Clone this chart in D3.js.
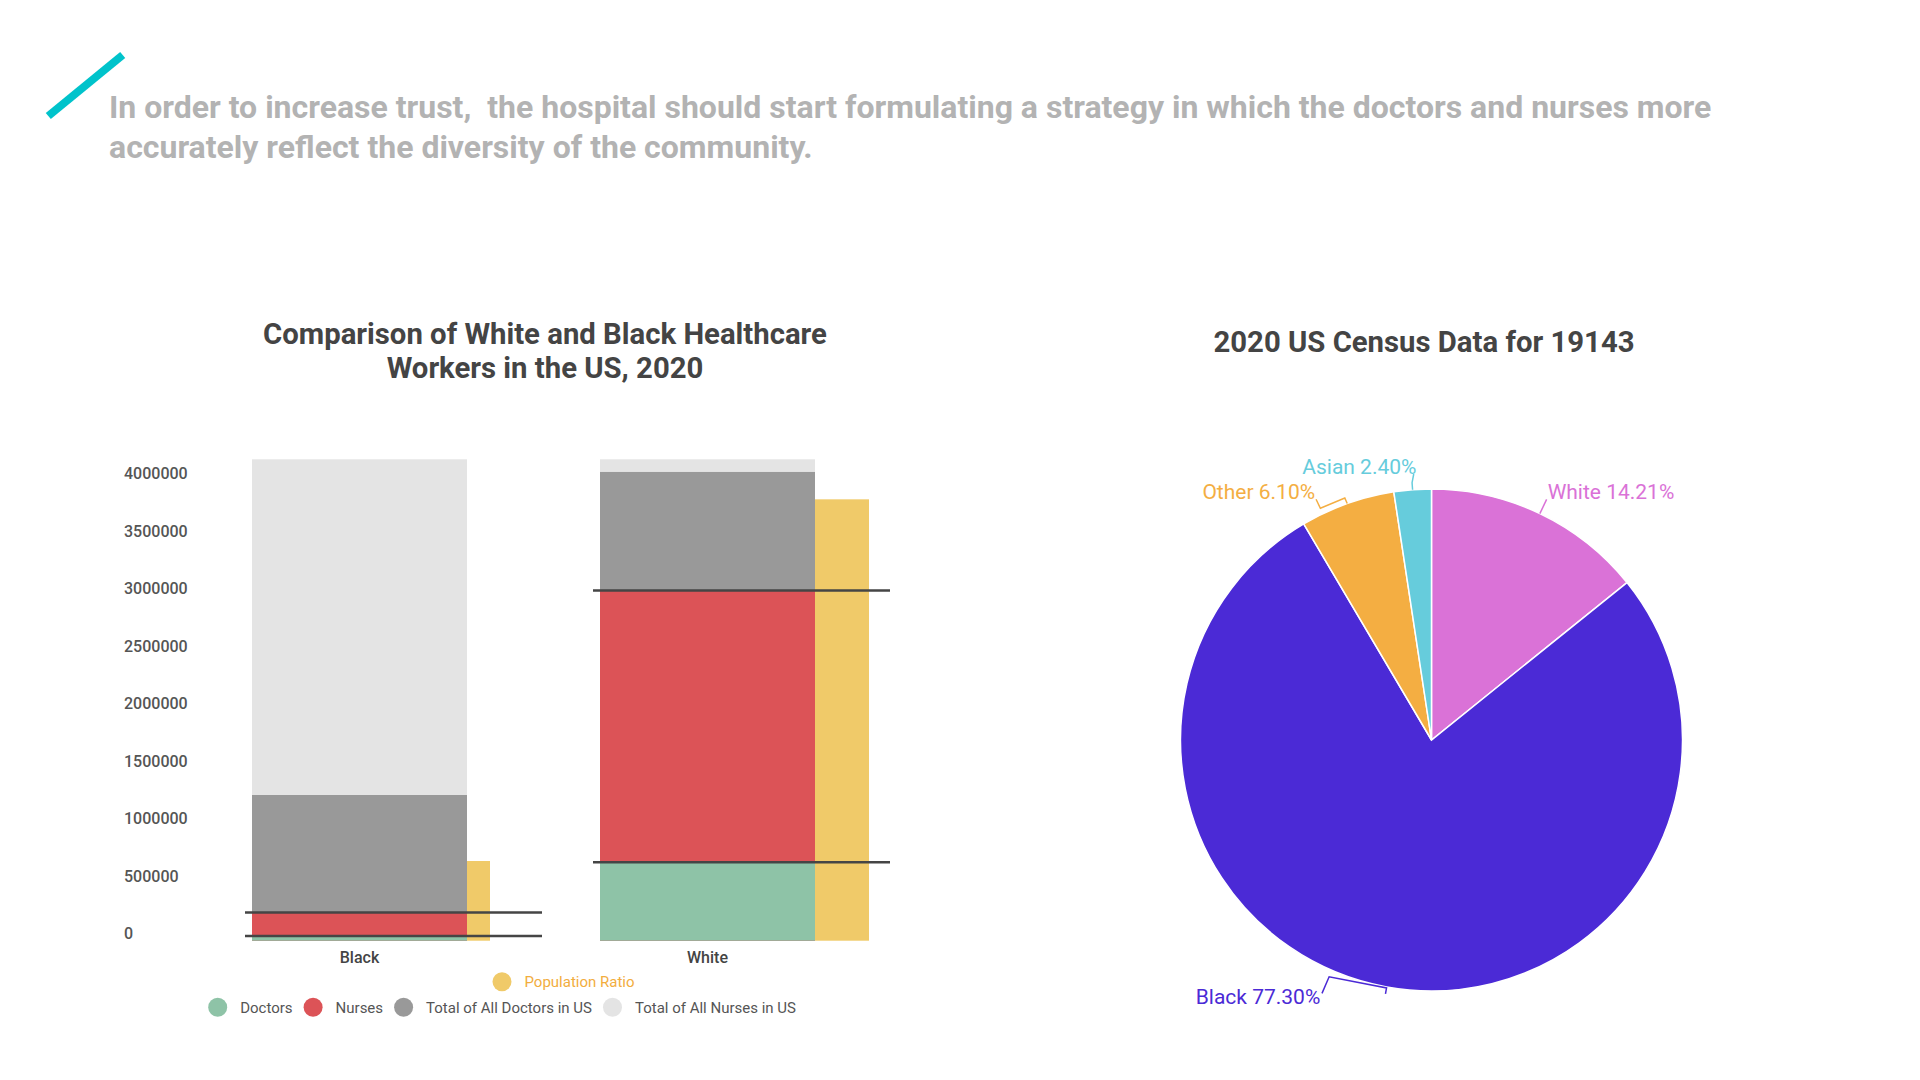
<!DOCTYPE html>
<html><head><meta charset="utf-8">
<script src="https://cdn.jsdelivr.net/npm/d3@7"></script>
<style>
body{margin:0;background:#fff;}
svg{display:block;font-family:Roboto, "Noto Sans", sans-serif;}
</style>
</head><body>
<svg id="c" width="1920" height="1080"></svg>
<script>
// ---------- DATA ----------
const headerLines = [
  "In order to increase trust,  the hospital should start formulating a strategy in which the doctors and nurses more",
  "accurately reflect the diversity of the community."
];
const barTitleLines = ["Comparison of White and Black Healthcare", "Workers in the US, 2020"];
const pieTitle = "2020 US Census Data for 19143";

const categories = ["Black", "White"];
const doctors = [41000, 682000];
const nurses = [245000, 3045000];
const totalDoctors = [1267000, 4076000];
const totalNurses = [4186000, 4186000];
const populationRatio = [693000, 3838000];
const yTickValues = [0, 500000, 1000000, 1500000, 2000000, 2500000, 3000000, 3500000, 4000000];

const pieCategories = ["White", "Black", "Other", "Asian"];
const piePercents = [14.21, 77.30, 6.10, 2.40];

// ---------- STYLE / LAYOUT ----------
const colors = {
  doctors: "#8ec3a7", nurses: "#dc5357", totalDoctors: "#999999",
  totalNurses: "#e4e4e4", population: "#f0ca69", popText: "#f2ad3e"
};
const pieColors = {White: "#da72d7", Black: "#4b2ad6", Other: "#f4ae42", Asian: "#66ccdc"};
const popBarWidth = {Black: 23, White: 54};

const svg = d3.select("#c");

// header
svg.append("line").attr("x1", 48.3).attr("y1", 116).attr("x2", 122.7).attr("y2", 55)
  .attr("stroke", "#00c3cb").attr("stroke-width", 8);
svg.append("g").selectAll("text").data(headerLines).join("text")
  .attr("x", 109).attr("y", (d, i) => 118.3 + i * 40)
  .style("white-space", "pre")
  .attr("font-size", 32).attr("font-weight", 700).attr("fill", "#b3b3b3")
  .text(d => d);

// ---------- BAR CHART ----------
const y = d3.scaleLinear().domain([0, 4000000]).range([940.7, 480.7]);
const x = d3.scaleBand().domain(categories).range([252, 815]).paddingInner(133 / 348).paddingOuter(0);

svg.append("g").selectAll("text").data(barTitleLines).join("text")
  .attr("x", 545).attr("y", (d, i) => 344 + i * 33.5)
  .attr("text-anchor", "middle").attr("font-size", 29.3).attr("font-weight", 700).attr("fill", "#444")
  .text(d => d);

// y axis labels (no line)
const yAxis = d3.axisLeft(y).tickValues(yTickValues).tickFormat(d3.format("d")).tickSize(0);
const yg = svg.append("g").attr("transform", "translate(124,0)").call(yAxis);
yg.select(".domain").remove();
yg.selectAll("text").attr("text-anchor", "start").attr("x", 0).attr("dy", -2)
  .attr("font-size", 16).attr("font-family", "Roboto").attr("font-weight", 500).attr("fill", "#555")
  .attr("dominant-baseline", "auto");

const series = [
  {key: "totalNurses", values: totalNurses},
  {key: "totalDoctors", values: totalDoctors},
  {key: "nurses", values: nurses},
  {key: "doctors", values: doctors}
];
const barsG = svg.append("g");
series.forEach(s => {
  barsG.append("g").selectAll("rect").data(categories.map((c, i) => ({c, v: s.values[i]}))).join("rect")
    .attr("x", d => x(d.c)).attr("width", x.bandwidth())
    .attr("y", d => y(d.v)).attr("height", d => y(0) - y(d.v))
    .attr("fill", colors[s.key]);
});
// population ratio bars
barsG.append("g").selectAll("rect").data(categories.map((c, i) => ({c, v: populationRatio[i]}))).join("rect")
  .attr("x", d => x(d.c) + x.bandwidth()).attr("width", d => popBarWidth[d.c])
  .attr("y", d => y(d.v)).attr("height", d => y(0) - y(d.v))
  .attr("fill", colors.population);

// marker lines at doctors and nurses values
const lineData = [];
categories.forEach((c, i) => { lineData.push({c, v: doctors[i]}); lineData.push({c, v: nurses[i]}); });
svg.append("g").selectAll("line").data(lineData).join("line")
  .attr("x1", d => x(d.c) - 7).attr("x2", d => x(d.c) + 290)
  .attr("y1", d => y(d.v)).attr("y2", d => y(d.v))
  .attr("stroke", "#454545").attr("stroke-width", 2.5);

// category labels
svg.append("g").selectAll("text").data(categories).join("text")
  .attr("x", d => x(d) + x.bandwidth() / 2).attr("y", 962.7)
  .attr("text-anchor", "middle").attr("font-size", 16).attr("font-weight", 500).attr("fill", "#444")
  .text(d => d);

// legend
function legendRow(items, startX, cy) {
  let cx = startX;
  const g = svg.append("g");
  items.forEach(it => {
    g.append("circle").attr("cx", cx).attr("cy", cy).attr("r", 9.5).attr("fill", it.color);
    const t = g.append("text").attr("x", cx + 22.5).attr("y", cy + 5.2)
      .attr("font-size", 15).attr("fill", it.textColor || "#555").text(it.label);
    cx = cx + 22.5 + t.node().getComputedTextLength() + 20.5;
  });
}
legendRow([{label: "Population Ratio", color: colors.population, textColor: colors.popText}], 502, 981.7);
legendRow([
  {label: "Doctors", color: colors.doctors},
  {label: "Nurses", color: colors.nurses},
  {label: "Total of All Doctors in US", color: colors.totalDoctors},
  {label: "Total of All Nurses in US", color: colors.totalNurses}
], 217.7, 1007.3);

// ---------- PIE ----------
const cx = 1431.5, cy = 740, R = 251;
svg.append("text").attr("x", 1424).attr("y", 352).attr("text-anchor", "middle")
  .attr("font-size", 29.3).attr("font-weight", 700).attr("fill", "#444").text(pieTitle);

const pieData = d3.pie().sort(null).value(d => d.v)(pieCategories.map((c, i) => ({c, v: piePercents[i]})));
const arc = d3.arc().innerRadius(0).outerRadius(R);
const pg = svg.append("g").attr("transform", `translate(${cx},${cy})`);
pg.selectAll("path").data(pieData).join("path")
  .attr("d", arc).attr("fill", d => pieColors[d.data.c])
  .attr("stroke", "#fff").attr("stroke-width", 1.5);

// label leaders: [angle offset deg from slice middle, radius offset]
const leaderLayout = {
  White: {pts: [[0, 0], [0, 15.7]], dx: 1, dy: -0.7, anchor: "start"},
  Asian: {pts: [[0, 0], [0, 7], [0.5, 15.6]], dx: 2.7, dy: 0, anchor: "end"},
  Other: {pts: [[0, 0], [-0.1, 6], [-6, 6], [-6, 16]], dx: -1, dy: 0, anchor: "end"},
  Black: {pts: [[0, 7], [0, 1], [13.1, 7], [13.1, 25]], dx: -1.7, dy: 11, anchor: "end"}
};
function polar(aDeg, r) {
  const a = aDeg * Math.PI / 180;
  return [r * Math.sin(a), -r * Math.cos(a)];
}
pieData.forEach(d => {
  const L = leaderLayout[d.data.c];
  const mid = (d.startAngle + d.endAngle) / 2 * 180 / Math.PI;
  const pts = L.pts.map(p => polar(mid + p[0], R + p[1]));
  pg.append("path").attr("d", d3.line()(pts)).attr("fill", "none")
    .attr("stroke", pieColors[d.data.c]).attr("stroke-width", 1.5);
  const end = pts[pts.length - 1];
  pg.append("text").attr("x", end[0] + L.dx).attr("y", end[1] + L.dy)
    .attr("text-anchor", L.anchor).attr("font-size", 21).attr("fill", pieColors[d.data.c])
    .text(`${d.data.c} ${d.data.v.toFixed(2)}%`);
});
</script>
</body></html>
